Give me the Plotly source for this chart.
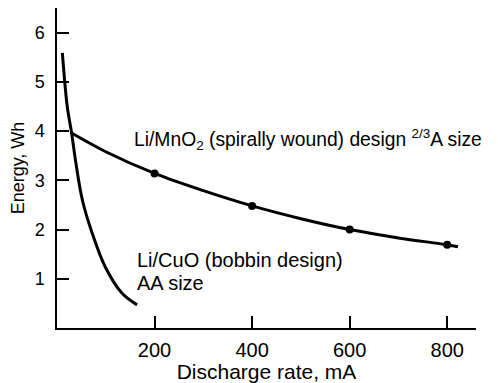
import plotly.graph_objects as go

# Li/MnO2 spirally wound 2/3A curve
mno2_x = [28, 100, 200, 300, 400, 500, 600, 700, 800, 822]
mno2_y = [3.97, 3.58, 3.14, 2.79, 2.48, 2.22, 2.00, 1.83, 1.69, 1.65]
# measured points (dots)
mno2_pts_x = [200, 400, 600, 800]
mno2_pts_y = [3.14, 2.48, 2.00, 1.69]
# Li/CuO bobbin AA curve
cuo_x = [11, 21, 30, 38, 52, 72, 99, 133, 164]
cuo_y = [5.59, 4.50, 3.96, 3.40, 2.60, 1.93, 1.24, 0.71, 0.47]

x_ticks = [200, 400, 600, 800]
y_ticks = [1, 2, 3, 4, 5, 6]

FONT = "Arial, Liberation Sans, Helvetica, sans-serif"
FS = 20

fig = go.Figure()
fig.add_trace(go.Scatter(x=mno2_x, y=mno2_y, mode="lines",
                         line=dict(color="black", width=3, shape="spline"),
                         showlegend=False, hoverinfo="skip"))
fig.add_trace(go.Scatter(x=mno2_pts_x, y=mno2_pts_y, mode="markers",
                         marker=dict(color="black", size=8),
                         showlegend=False))
fig.add_trace(go.Scatter(x=cuo_x, y=cuo_y, mode="lines",
                         line=dict(color="black", width=3, shape="spline"),
                         showlegend=False, hoverinfo="skip"))

fig.add_annotation(x=154, y=3.82, xref="x", yref="y", xanchor="left", yanchor="middle",
                   text="Li/MnO<sub>2</sub> (spirally wound) design <sup>2/3</sup>A size",
                   showarrow=False, font=dict(family=FONT, size=19.3, color="black"))
fig.add_annotation(x=159, y=1.38, xref="x", yref="y", xanchor="left", yanchor="middle",
                   text="Li/CuO (bobbin design)",
                   showarrow=False, font=dict(family=FONT, size=FS, color="black"))
fig.add_annotation(x=159, y=0.91, xref="x", yref="y", xanchor="left", yanchor="middle",
                   text="AA size",
                   showarrow=False, font=dict(family=FONT, size=FS, color="black"))

# the page body has an 8px margin, so the figure is drawn at (8, 8)
fig.update_layout(
    width=490, height=375,
    margin=dict(l=49, r=22, t=0, b=55),
    plot_bgcolor="white", paper_bgcolor="white",
    font=dict(family=FONT, size=FS, color="black"),
)
fig.update_xaxes(range=[0, 859], tickvals=x_ticks, ticks="inside", ticklen=12,
                 tickwidth=1.5, tickcolor="black", showline=True, linecolor="black",
                 linewidth=1.5, showgrid=False, zeroline=False, automargin=False,
                 ticklabelstandoff=3, tickfont=dict(size=20),
                 title=dict(text="Discharge rate, mA", standoff=6, font=dict(size=21)))
fig.update_yaxes(range=[0, 6.5], tickvals=y_ticks, ticks="inside", ticklen=12,
                 tickwidth=1.5, tickcolor="black", showline=True, linecolor="black",
                 linewidth=1.5, showgrid=False, zeroline=False, automargin=False,
                 ticklabelstandoff=7, tickfont=dict(size=18),
                 title=dict(text="Energy, Wh", standoff=8, font=dict(size=18)))

fig.write_html("out.html")
